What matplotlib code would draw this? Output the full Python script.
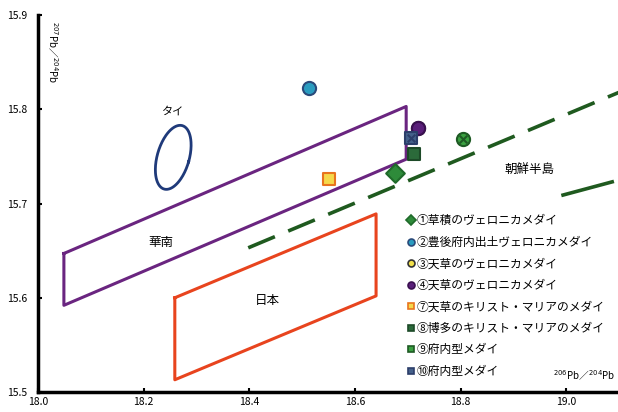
import numpy as np
import matplotlib.pyplot as plt
from matplotlib.lines import Line2D

plt.rcParams['font.family'] = ['Noto Sans CJK JP', 'DejaVu Sans']

# measured medals: (206Pb/204Pb, 207Pb/204Pb)
labels = ['①草積のヴェロニカメダイ', '②豊後府内出土ヴェロニカメダイ', '③天草のヴェロニカメダイ',
          '④天草のヴェロニカメダイ', '⑦天草のキリスト・マリアのメダイ', '⑧博多のキリスト・マリアのメダイ',
          '⑨府内型メダイ', '⑩府内型メダイ']
x_pts = [18.676, 18.513, 18.720, 18.720, 18.551, 18.712, 18.805, 18.706]
y_pts = [15.732, 15.823, 15.780, 15.780, 15.726, 15.753, 15.768, 15.770]
face = ['#2e8b3a', '#2a9cc0', '#f2e04a', '#5a1f7a', '#f5d84a', '#2b6a3a', '#3aa040', '#44608a']
edge = ['#1f6a2a', '#2a4a7a', '#333333', '#3a1050', '#e8741e', '#1d4a28', '#1e5a24', '#2c3e6a']
plot_marker = ['D', 'o', 'o', 'o', 's', 's', 'o', 's']
legend_marker = ['D', 'o', 'o', 'o', 's', 's', 's', 's']

# lead isotope fields
south_china_x = [18.049, 18.697, 18.697, 18.049, 18.049]
south_china_y = [15.647, 15.803, 15.747, 15.592, 15.647]
japan_x = [18.259, 18.640, 18.640, 18.259, 18.259]
japan_y = [15.600, 15.689, 15.602, 15.513, 15.600]
korea_line1_x = [18.398, 19.10]
korea_line1_y = [15.653, 15.818]
korea_line2_x = [18.994, 19.087]
korea_line2_y = [15.709, 15.723]
# Thailand ellipse: centre and tilt
thai_c = (18.256, 15.749)
thai_tilt = 16

fig = plt.figure(figsize=(6.18, 4.12), dpi=100)
ax = fig.add_axes([0.0615, 0.0485, 0.9385, 0.915])

ax.plot(south_china_x, south_china_y, color='#6a2580', lw=2.2)
ax.plot(japan_x, japan_y, color='#e8441e', lw=2.2)
ax.plot(korea_line1_x, korea_line1_y, color='#1f5a1f', lw=2.6, dashes=(8, 4))
ax.plot(korea_line2_x, korea_line2_y, color='#1f5a1f', lw=2.6)

# ellipse drawn in pixel-like space then converted to data units
t = np.linspace(0, 2 * np.pi, 200)
a_px, b_px = 16, 33
th = np.radians(thai_tilt)
u = a_px * np.cos(t) * np.cos(th) + b_px * np.sin(t) * np.sin(th)
v = -a_px * np.cos(t) * np.sin(th) + b_px * np.sin(t) * np.cos(th)
ax.plot(thai_c[0] + u / 528, thai_c[1] + v / 942.5, color='#1f3a7a', lw=2)

for i in range(len(labels)):
    ax.scatter(x_pts[i], y_pts[i], marker=plot_marker[i], s=90 if plot_marker[i] != 's' else 70,
               facecolor=face[i], edgecolor=edge[i], linewidths=1.5, zorder=3 if i != 2 else 2)
ax.scatter([x_pts[6]], [y_pts[6]], marker='x', s=30, color='#1e5a24', zorder=4)
ax.scatter([x_pts[7]], [y_pts[7]], marker='x', s=30, color='#2c3e6a', zorder=4)

ax.text(18.255, 15.798, 'タイ', fontsize=8, ha='center', va='center')
ax.text(18.232, 15.659, '華南', fontsize=9, ha='center', va='center')
ax.text(18.435, 15.597, '日本', fontsize=9, ha='center', va='center')
ax.text(18.93, 15.735, '朝鮮半島', fontsize=9, ha='center', va='center')

handles = [Line2D([], [], marker=legend_marker[i], ls='', markersize=5, markerfacecolor=face[i],
                  markeredgecolor=edge[i], markeredgewidth=1.2) for i in range(len(labels))]
ax.legend(handles, labels, loc='lower left', bbox_to_anchor=(0.625, 0.025), frameon=False,
          fontsize=8.5, handletextpad=0.0, handlelength=1.0, labelspacing=0.72, borderaxespad=0)

ax.set_xlim(18.0, 19.098)
ax.set_ylim(15.5, 15.9)
ax.set_xticks([18.0, 18.2, 18.4, 18.6, 18.8, 19.0])
ax.set_yticks([15.5, 15.6, 15.7, 15.8, 15.9])
ax.xaxis.set_major_formatter(plt.FuncFormatter(lambda v, p: f'{v:.1f}'))
ax.yaxis.set_major_formatter(plt.FuncFormatter(lambda v, p: f'{v:.1f}'))
ax.tick_params(direction='in', length=3, width=1.5, labelsize=7.5)
ax.tick_params(axis='y', pad=8)
for s in ['top', 'right']:
    ax.spines[s].set_visible(False)
for s in ['left', 'bottom']:
    ax.spines[s].set_linewidth(2.5)

ax.text(0.012, 0.985, '$^{207}$Pb／$^{204}$Pb', transform=ax.transAxes, rotation=270,
        fontsize=7, ha='left', va='top')
ax.text(0.995, 0.025, '$^{206}$Pb／$^{204}$Pb', transform=ax.transAxes,
        fontsize=7, ha='right', va='bottom')

fig.savefig('out.png', dpi=100)
